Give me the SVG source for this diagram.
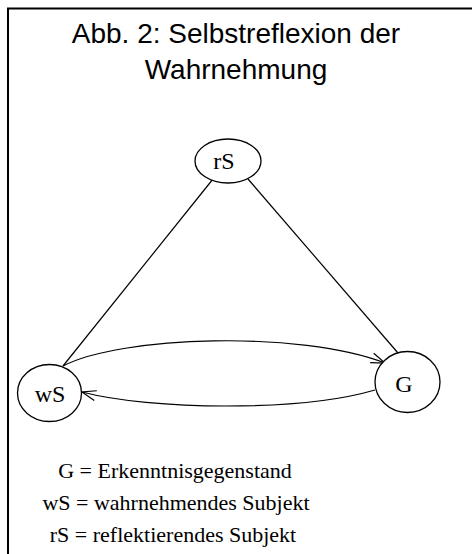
<svg xmlns="http://www.w3.org/2000/svg" width="472" height="554" viewBox="0 0 472 554">
  <style>
    .frame { fill: none; stroke: #000; stroke-width: 2; }
    .node ellipse { fill: #fff; stroke: #000; stroke-width: 1.3; }
    .node text { font-family: "Liberation Serif", "Times New Roman", serif; font-size: 24px; text-anchor: middle; fill: #000; }
    .edge { fill: none; stroke: #000; stroke-width: 1.2; }
    .title { font-family: "Liberation Sans", Arial, sans-serif; font-size: 28px; text-anchor: middle; fill: #000; }
    .legend { font-family: "Liberation Serif", "Times New Roman", serif; font-size: 22px; text-anchor: middle; fill: #000; }
  </style>
  <defs>
    <marker id="open-arrow" viewBox="0 0 16 12" refX="15" refY="6" markerWidth="16" markerHeight="12" markerUnits="userSpaceOnUse" orient="auto">
      <path d="M1,1 L15,6 L1,11" fill="none" stroke="#000" stroke-width="1.2"/>
    </marker>
  </defs>

  <rect width="472" height="554" fill="#fff"/>
  <!-- open frame: top and left edges only -->
  <path class="frame" d="M8,554 V8.5 H472"/>

  <text class="title" x="236" y="43">Abb. 2: Selbstreflexion der</text>
  <text class="title" x="236" y="79">Wahrnehmung</text>

  <g id="connectors">
    <line class="edge" x1="213" y1="179" x2="63" y2="366"/>
    <line class="edge" x1="248" y1="179" x2="398" y2="353"/>
    <path class="edge" d="M63,366 C120,336 300,330 385,363" marker-end="url(#open-arrow)"/>
    <path class="edge" d="M375,390 C300,412 150,410 82,392" marker-end="url(#open-arrow)"/>
  </g>

  <g id="node-rS" class="node">
    <ellipse cx="228" cy="161" rx="33" ry="22"/>
    <text x="224" y="169">rS</text>
  </g>
  <g id="node-wS" class="node">
    <ellipse cx="49.5" cy="393" rx="32" ry="28.5"/>
    <text x="50" y="402">wS</text>
  </g>
  <g id="node-G" class="node">
    <ellipse cx="407.5" cy="382" rx="32.5" ry="30.5"/>
    <text x="404" y="392">G</text>
  </g>

  <g id="legend">
    <text class="legend" x="175" y="478">G = Erkenntnisgegenstand</text>
    <text class="legend" x="176" y="510">wS = wahrnehmendes Subjekt</text>
    <text class="legend" x="173" y="542">rS = reflektierendes Subjekt</text>
  </g>
</svg>
